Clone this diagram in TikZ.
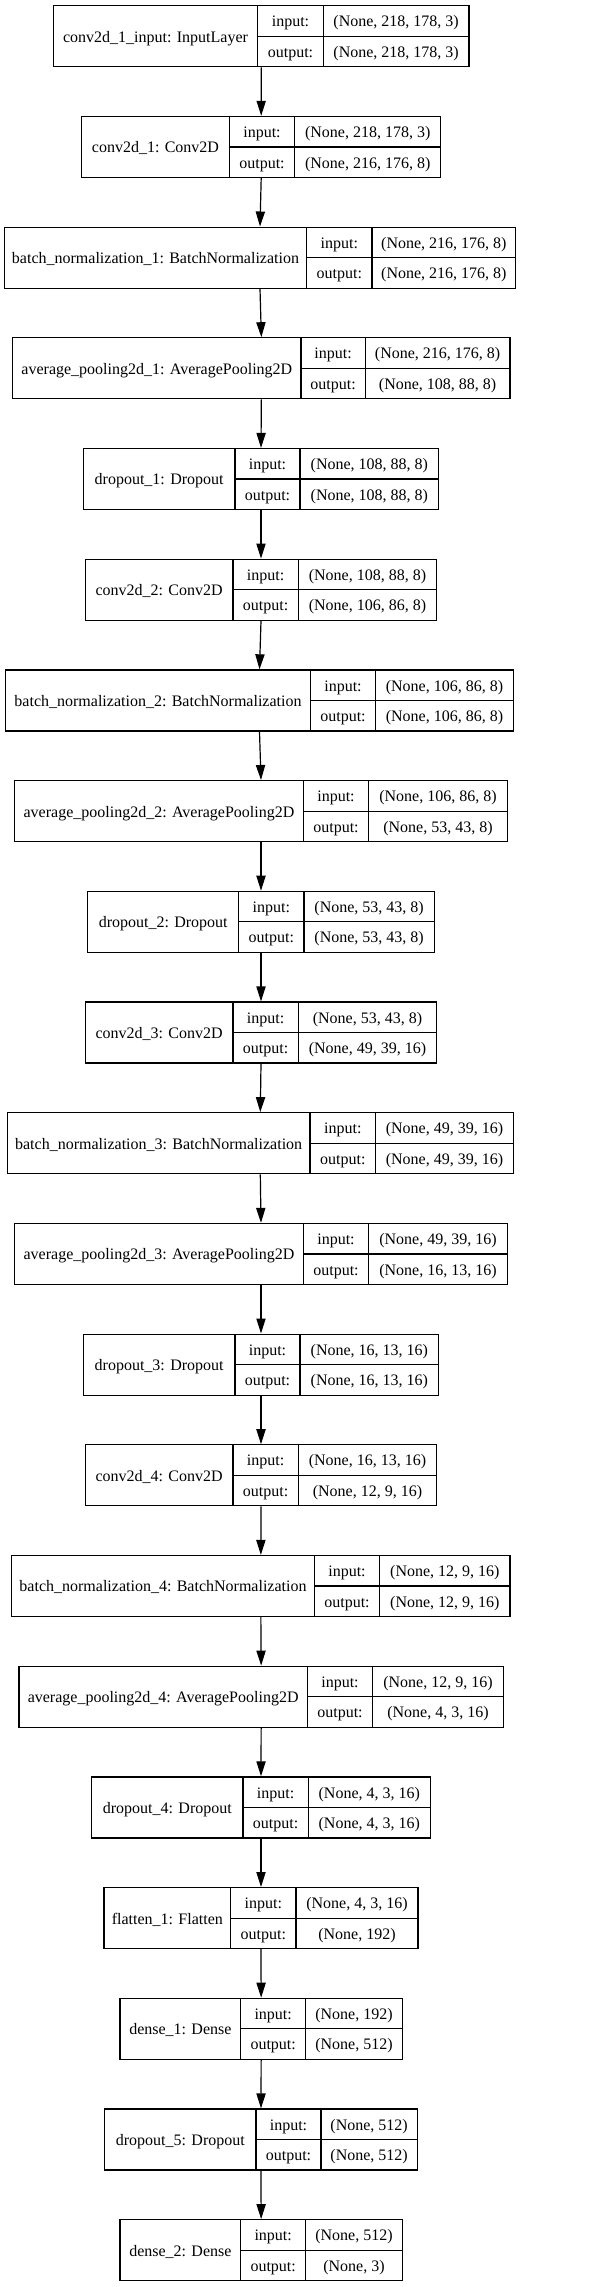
\documentclass[tikz,border=0pt]{standalone}
\usepackage{fontspec}
\setmainfont{Liberation Serif}
\usepackage{tikz}
\usetikzlibrary{positioning, arrows.meta}

\tikzset{
  layerbox/.style={draw, rectangle, line width=0.6pt, minimum height=30.5pt, inner sep=0pt},
  cell/.style={inner sep=0pt, text height=7.4pt, text depth=1.5pt, font=\fontsize{8pt}{9.6pt}\selectfont},
  divider/.style={line width=0.6pt},
  flow/.style={-{Triangle[length=7.5pt, width=4.6pt]}, line width=0.6pt}
}

\begin{document}
\begin{tikzpicture}[x=0.5pt, y=-0.5pt]
  \useasboundingbox (0,0) rectangle (599,2287);

  % Layers: index/name/left/col1/col2/right/input shape/output shape
  \foreach \i/\lbl/\xa/\xb/\xc/\xd/\shin/\shout in {
    1/{conv2d\_1\_input: InputLayer}/53.3/257.7/323.3/469/{(None, 218, 178, 3)}/{(None, 218, 178, 3)},
    2/{conv2d\_1: Conv2D}/81.7/229.3/294.7/440.7/{(None, 218, 178, 3)}/{(None, 216, 176, 8)},
    3/{batch\_normalization\_1: BatchNormalization}/4.3/306.7/372/515.7/{(None, 216, 176, 8)}/{(None, 216, 176, 8)},
    4/{average\_pooling2d\_1: AveragePooling2D}/12.7/301/365.3/510/{(None, 216, 176, 8)}/{(None, 108, 88, 8)},
    5/{dropout\_1: Dropout}/83.3/235/300/438.7/{(None, 108, 88, 8)}/{(None, 108, 88, 8)},
    6/{conv2d\_2: Conv2D}/85.3/233/298.3/436.7/{(None, 108, 88, 8)}/{(None, 106, 86, 8)},
    7/{batch\_normalization\_2: BatchNormalization}/5.7/310.3/375.7/513.3/{(None, 106, 86, 8)}/{(None, 106, 86, 8)},
    8/{average\_pooling2d\_2: AveragePooling2D}/14.7/303.3/368.7/507.3/{(None, 106, 86, 8)}/{(None, 53, 43, 8)},
    9/{dropout\_2: Dropout}/87.7/238.7/304/434.3/{(None, 53, 43, 8)}/{(None, 53, 43, 8)},
    10/{conv2d\_3: Conv2D}/85.3/233/298.3/436.7/{(None, 53, 43, 8)}/{(None, 49, 39, 16)},
    11/{batch\_normalization\_3: BatchNormalization}/7.3/310/375.7/513.3/{(None, 49, 39, 16)}/{(None, 49, 39, 16)},
    12/{average\_pooling2d\_3: AveragePooling2D}/14.7/303.3/368.7/507.3/{(None, 49, 39, 16)}/{(None, 16, 13, 16)},
    13/{dropout\_3: Dropout}/83.3/235/300/438.7/{(None, 16, 13, 16)}/{(None, 16, 13, 16)},
    14/{conv2d\_4: Conv2D}/85.3/233/298.3/436.7/{(None, 16, 13, 16)}/{(None, 12, 9, 16)},
    15/{batch\_normalization\_4: BatchNormalization}/11.7/314.3/379.7/510/{(None, 12, 9, 16)}/{(None, 12, 9, 16)},
    16/{average\_pooling2d\_4: AveragePooling2D}/19/307.3/372.7/503.3/{(None, 12, 9, 16)}/{(None, 4, 3, 16)},
    17/{dropout\_4: Dropout}/91.7/243/308.3/430.3/{(None, 4, 3, 16)}/{(None, 4, 3, 16)},
    18/{flatten\_1: Flatten}/104/230.7/296/418/{(None, 4, 3, 16)}/{(None, 192)},
    19/{dense\_1: Dense}/120/240.7/305.7/402.3/{(None, 192)}/{(None, 512)},
    20/{dropout\_5: Dropout}/104.7/256/321/417.3/{(None, 512)}/{(None, 512)},
    21/{dense\_2: Dense}/120/240.7/305.7/402.3/{(None, 512)}/{(None, 3)}
  }{
    \pgfmathsetmacro\ytop{5.7+(\i-1)*110.7}
    \pgfmathsetmacro\ybot{\ytop+61}
    \pgfmathsetmacro\ymid{\ytop+30.5}
    \pgfmathsetmacro\yup{\ytop+15.25}
    \pgfmathsetmacro\ylow{\ytop+45.75}
    \pgfmathsetmacro\boxw{(\xd-\xa)*0.5}
    \node[layerbox, minimum width=\boxw pt] (L\i) at ({(\xa+\xd)/2}, \ymid) {};
    \draw[divider] (\xb,\ytop) -- (\xb,\ybot) (\xc,\ytop) -- (\xc,\ybot) (\xb,\ymid) -- (\xd,\ymid);
    \node[cell] (N\i) at ({(\xa+\xb)/2}, \ymid) {\lbl};
    \node[cell] (I\i) at ({(\xb+\xc)/2}, \yup) {input:};
    \node[cell] (O\i) at ({(\xb+\xc)/2}, \ylow) {output:};
    \node[cell] (S\i) at ({(\xc+\xd)/2}, \yup) {\shin};
    \node[cell] (T\i) at ({(\xc+\xd)/2}, \ylow) {\shout};
  }

  % Arrows
  \foreach \i in {1,...,20} {
    \pgfmathtruncatemacro\j{\i+1}
    \draw[flow] (L\i.south) -- (L\j.north);
  }
\end{tikzpicture}
\end{document}
